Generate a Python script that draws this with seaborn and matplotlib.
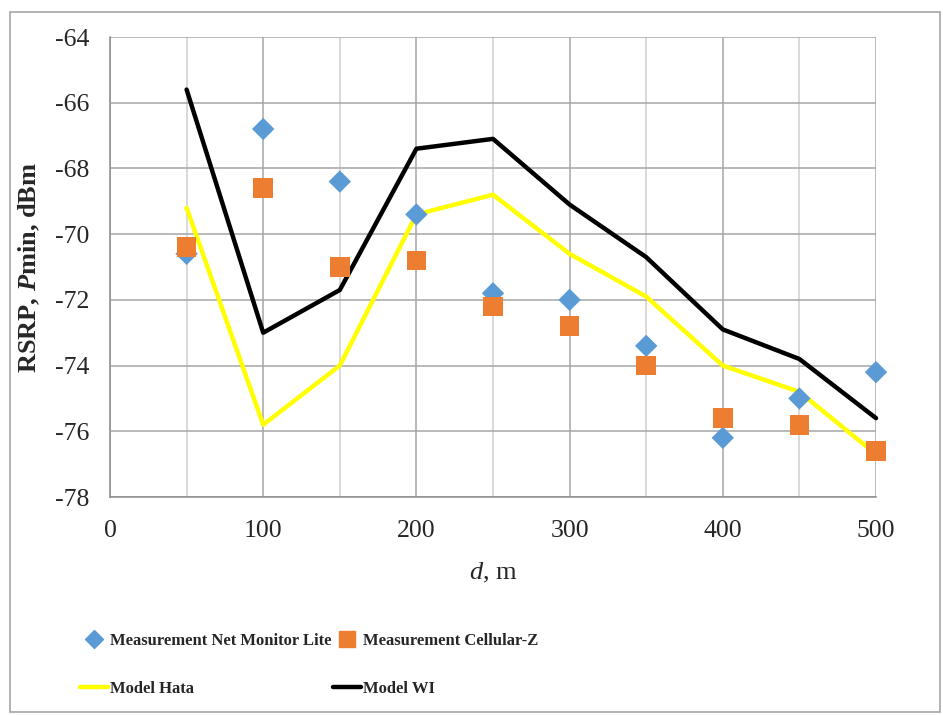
import pandas as pd
import matplotlib
matplotlib.use('Agg')
import matplotlib.pyplot as plt
import seaborn as sns
from matplotlib.lines import Line2D
from matplotlib.patches import Rectangle
from matplotlib.ticker import MultipleLocator

d = [50, 100, 150, 200, 250, 300, 350, 400, 450, 500]
net_monitor = [-70.6, -66.8, -68.4, -69.4, -71.8, -72.0, -73.4, -76.2, -75.0, -74.2]
cellular_z = [-70.4, -68.6, -71.0, -70.8, -72.2, -72.8, -74.0, -75.6, -75.8, -76.6]
hata = [-69.2, -75.8, -74.0, -69.4, -68.8, -70.6, -71.9, -74.0, -74.8, -76.7]
wi = [-65.6, -73.0, -71.7, -67.4, -67.1, -69.1, -70.7, -72.9, -73.8, -75.6]

df = pd.DataFrame({'d': d, 'nml': net_monitor, 'cz': cellular_z, 'hata': hata, 'wi': wi})

sns.set_style('white')
plt.rcParams['font.family'] = ['Liberation Serif', 'DejaVu Serif']
plt.rcParams['axes.unicode_minus'] = False
plt.rcParams['mathtext.fontset'] = 'custom'
plt.rcParams['mathtext.rm'] = 'Liberation Serif:bold'
plt.rcParams['mathtext.it'] = 'Liberation Serif:italic:bold'
plt.rcParams['mathtext.sf'] = 'Liberation Serif:italic'

fig = plt.figure(figsize=(9.43, 7.15), dpi=100)
ax = fig.add_axes([110/943, 1-497/715, (876-110)/943, (497-37)/715])

sns.lineplot(data=df, x='d', y='hata', ax=ax, color='#FFFF00', lw=3.2, zorder=3, clip_on=False)
sns.lineplot(data=df, x='d', y='wi', ax=ax, color='black', lw=3.2, zorder=4, clip_on=False)
sns.scatterplot(data=df, x='d', y='nml', ax=ax, color='#5B9BD5', marker='D', s=130,
                edgecolor='none', zorder=5, clip_on=False)
sns.scatterplot(data=df, x='d', y='cz', ax=ax, color='#ED7D31', marker='s', s=200,
                edgecolor='none', zorder=6, clip_on=False)

ax.set_xlim(0, 500)
ax.set_ylim(-78, -64)
ax.xaxis.set_major_locator(MultipleLocator(100))
ax.xaxis.set_minor_locator(MultipleLocator(50))
ax.yaxis.set_major_locator(MultipleLocator(2))
ax.grid(which='major', axis='both', color='#A6A6A6', lw=1.1)
ax.grid(which='minor', axis='x', color='#CFCFCF', lw=1.1)
ax.set_axisbelow(True)
for s in ['top', 'right']:
    ax.spines[s].set_visible(False)
for s in ['left', 'bottom']:
    ax.spines[s].set_color('#8C8C8C')
    ax.spines[s].set_linewidth(1.1)
ax.tick_params(axis='y', which='major', length=5, color='#8C8C8C', pad=10, labelsize=18.5)
ax.tick_params(axis='x', which='both', length=0, pad=16.5, labelsize=18.5)

ax.set_xlabel(r'$\mathsf{d}$, m', fontsize=19, labelpad=14)
ax.set_ylabel(r'RSRP, $P$min, dBm', fontsize=19, fontweight='bold', labelpad=9)

handles = [
    Line2D([], [], ls='none', marker='D', color='#5B9BD5', markersize=9),
    Line2D([], [], ls='none', marker='s', color='#ED7D31', markersize=11),
    Line2D([], [], color='#FFFF00', lw=3.2),
    Line2D([], [], color='black', lw=3.2),
]
labels = ['Measurement Net Monitor Lite', 'Model Hata',
          'Measurement Cellular-Z', 'Model WI']
handles = [handles[0], handles[2], handles[1], handles[3]]
fig.legend(handles, labels, ncol=2, loc='upper left', bbox_to_anchor=(80/943, 1-633/715),
           frameon=False, prop={'family': 'Liberation Serif', 'weight': 'bold', 'size': 12},
           handlelength=1.65, handletextpad=0.15, columnspacing=0.1, labelspacing=1.9,
           borderaxespad=0, borderpad=0)

fig.patches.append(Rectangle((10/943, 3/715), 930/943, 700/715, transform=fig.transFigure,
                             fill=False, edgecolor='#A6A6A6', lw=1.2))

fig.savefig('out.png', dpi=100)
